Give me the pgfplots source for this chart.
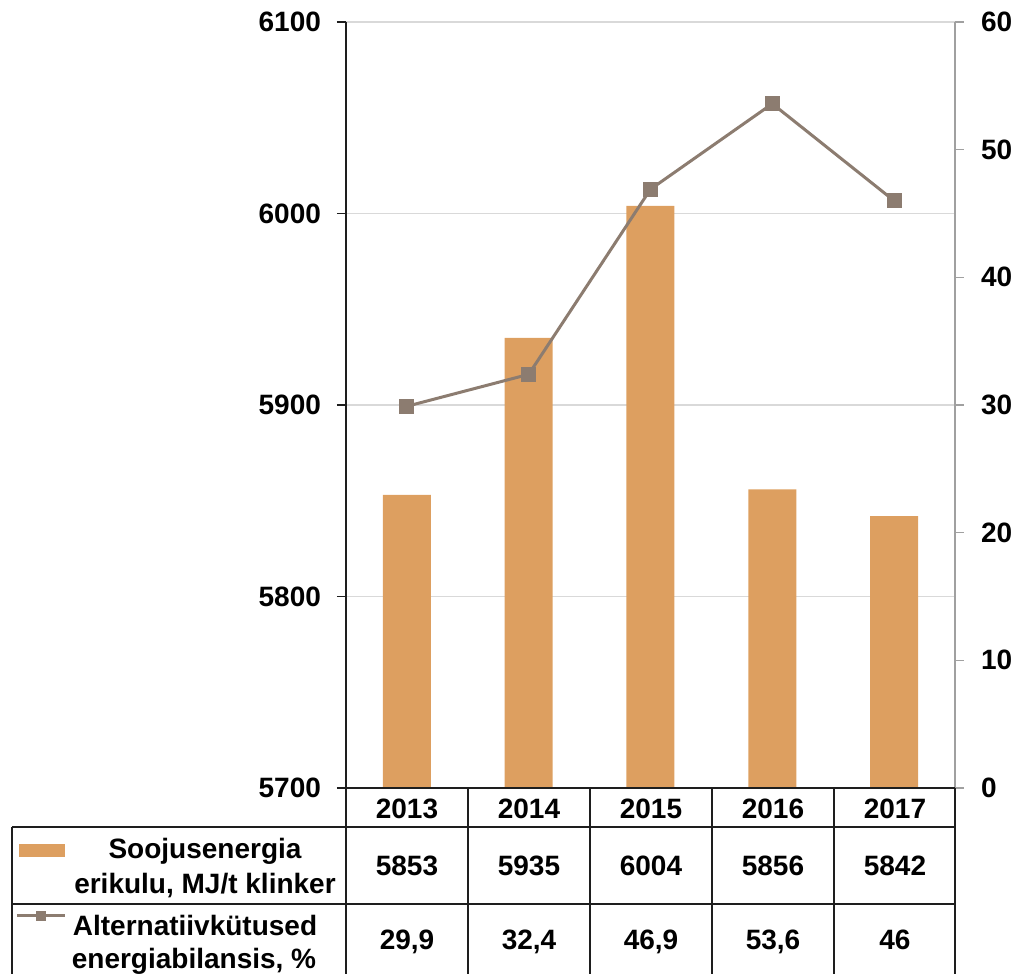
\documentclass[border=0pt]{standalone}
\usepackage{fontspec}
\setmainfont{Liberation Sans}
\usepackage{pgfplots}
\pgfplotsset{compat=1.18}
\definecolor{barc}{RGB}{221,159,96}
\definecolor{linec}{RGB}{140,124,112}
\definecolor{gridc}{RGB}{217,217,217}
\definecolor{raxis}{RGB}{160,160,160}
\definecolor{tabc}{RGB}{30,30,30}
\begin{document}
\begin{tikzpicture}[x=0.5pt,y=0.5pt,font=\fontsize{14}{16}\selectfont\bfseries]
% left axis: bars
\begin{axis}[at={(0,0)}, anchor=south west, scale only axis,
  width=304.5pt, height=383pt,
  xmin=0.5, xmax=5.5, ymin=5700, ymax=6100,
  ytick={5700,5800,5900,6000,6100},
  axis x line=none, axis y line*=left,
  axis line style={draw=tabc, line width=0.75pt, -},
  ymajorgrids, grid style={gridc, line width=0.75pt},
  tick align=outside, major tick length=4.5pt,
  tick style={tabc, line width=0.75pt},
  /pgf/number format/assume math mode=true,
  /pgf/number format/1000 sep={},
  yticklabel style={font=\fontsize{14}{16}\selectfont\bfseries, xshift=-4.5pt},
]
\addplot[ybar, bar width=24pt, fill=barc, draw=none]
  coordinates {(1,5853) (2,5935) (3,6004) (4,5856) (5,5842)};
\end{axis}
% right axis: line
\begin{axis}[at={(0,0)}, anchor=south west, scale only axis,
  width=304.5pt, height=383pt,
  xmin=0.5, xmax=5.5, ymin=0, ymax=60,
  ytick={0,10,20,30,40,50,60},
  axis x line=none, axis y line*=right,
  axis line style={draw=raxis, line width=0.75pt, -},
  tick align=outside, major tick length=4.5pt,
  tick style={raxis, line width=0.75pt},
  /pgf/number format/assume math mode=true,
  yticklabel style={font=\fontsize{14}{16}\selectfont\bfseries, xshift=5pt},
  clip=false,
]
\addplot[linec, line width=1.5pt, mark=square*, mark size=3pt,
  mark options={fill=linec, draw=linec, solid}]
  coordinates {(1,29.9) (2,32.4) (3,46.9) (4,53.6) (5,46)};
\end{axis}
% data table
\begin{scope}[tabc, line width=0.75pt]
\draw (0,0) -- (609,0);
\draw (0,0) -- (0,-186);
\foreach \xx in {122,244,366,488,609} \draw (\xx,0) -- (\xx,-186);
\draw (-334,-39) -- (609,-39);
\draw (-334,-116) -- (609,-116);
\draw (-334,-39) -- (-334,-186);
\end{scope}
\begin{scope}[every node/.style={inner sep=0pt, anchor=base, text=black}]
\foreach \xx/\yr in {61/2013,183/2014,305/2015,427/2016,549/2017}
  \node at (\xx,-31) {\yr};
\foreach \xx/\v in {61/5853,183/5935,305/6004,427/5856,549/5842}
  \node at (\xx,-88) {\v};
\foreach \xx/\v in {61/{29,9},183/{32,4},305/{46,9},427/{53,6},549/{46}}
  \node at (\xx,-162) {\v};
\node at (-141,-71) {Soojusenergia};
\node at (-141,-106) {erikulu, MJ/t klinker};
\node at (-151,-148) {Alternatiivkütused};
\node at (-152,-181) {energiabilansis, \%};
\end{scope}
\fill[barc] (-327,-56) rectangle (-281,-69);
\draw[linec, line width=1.5pt] (-329,-128) -- (-281,-128);
\fill[linec] (-310,-133) rectangle (-300,-123);
\pgfresetboundingbox
\path (-346,-186) rectangle (673,788);
\end{tikzpicture}
\end{document}
